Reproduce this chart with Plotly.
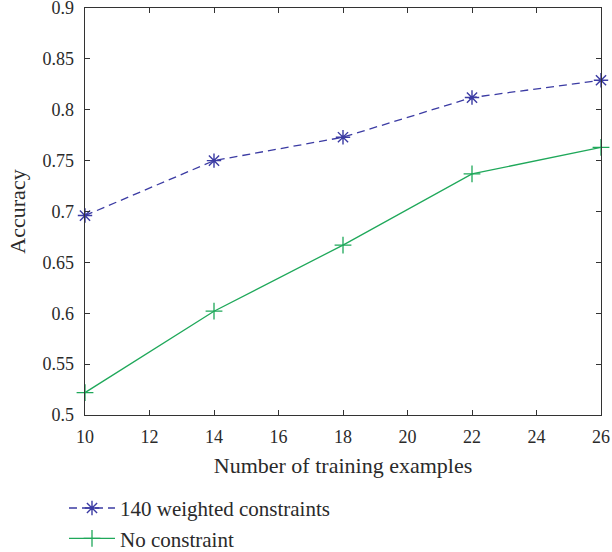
import plotly.graph_objects as go

x_vals = [10, 14, 18, 22, 26]
weighted = [0.696, 0.750, 0.773, 0.812, 0.829]
no_constraint = [0.522, 0.602, 0.667, 0.737, 0.763]
series_names = ["140 weighted constraints", "No constraint"]
x_ticks = [10, 12, 14, 16, 18, 20, 22, 24, 26]
y_ticks = [0.5, 0.55, 0.6, 0.65, 0.7, 0.75, 0.8, 0.85, 0.9]
y_tick_text = ["0.5", "0.55", "0.6", "0.65", "0.7", "0.75", "0.8", "0.85", "0.9"]

FONT = "Liberation Serif"
BLUE = "#3b3ba3"
GREEN = "#1fa85a"
TXT = "#2a2a2a"

fig = go.Figure()
fig.add_trace(go.Scatter(
    x=x_vals, y=weighted, name=series_names[0], mode="lines+markers",
    line=dict(color=BLUE, width=1.3, dash="8px,5px"),
    marker=dict(symbol="asterisk-open", size=12, color=BLUE, line=dict(color=BLUE, width=1.4)),
    cliponaxis=False,
))
fig.add_trace(go.Scatter(
    x=x_vals, y=no_constraint, name=series_names[1], mode="lines+markers",
    line=dict(color=GREEN, width=1.3),
    marker=dict(symbol="cross-thin-open", size=12, color=GREEN, line=dict(color=GREEN, width=1.3)),
    cliponaxis=False,
))

axis_common = dict(
    showline=True, linecolor="#333333", linewidth=1.3, mirror="ticks",
    ticks="inside", ticklen=5, tickwidth=1, tickcolor="#333333",
    showgrid=False, zeroline=False, automargin=False,
    ticklabeloverflow="allow",
    tickfont=dict(family=FONT, size=18, color=TXT),
)

fig.update_layout(
    width=612, height=552,
    margin=dict(l=85, r=11, t=8, b=137, autoexpand=False),
    paper_bgcolor="white", plot_bgcolor="white",
    font=dict(family=FONT, size=18, color=TXT),
    xaxis=dict(
        range=[10, 26], tickvals=x_ticks, ticklabelstandoff=5,
        title=dict(text="Number of training examples", font=dict(family=FONT, size=22, color=TXT), standoff=11),
        **axis_common,
    ),
    yaxis=dict(
        range=[0.5, 0.9], tickvals=y_ticks, ticktext=y_tick_text, ticklabelstandoff=6,
        title=dict(text="Accuracy", font=dict(family=FONT, size=22, color=TXT), standoff=11),
        **axis_common,
    ),
    legend=dict(
        x=-0.0407, xanchor="left", y=-0.179, yanchor="top",
        font=dict(family=FONT, size=21, color=TXT),
        bgcolor="rgba(0,0,0,0)", tracegroupgap=0, itemwidth=46,
    ),
    showlegend=True,
)

fig.write_html(
    "out.html",
    config={"displayModeBar": False, "staticPlot": True},
    post_script="document.body.style.margin='0px';",
)
